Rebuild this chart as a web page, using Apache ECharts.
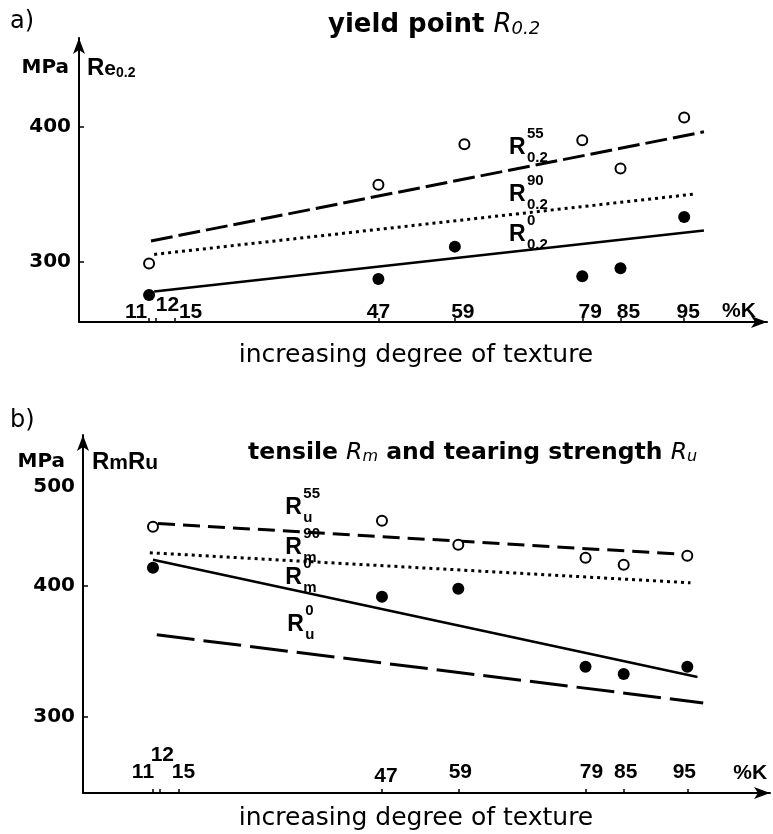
<!DOCTYPE html>
<html>
<head>
<meta charset="utf-8">
<script src="https://cdn.jsdelivr.net/npm/echarts@6/dist/echarts.min.js"></script>
<style>
  html, body { margin: 0; padding: 0; background: #fff; }
  #chart { width: 773px; height: 834px; }
</style>
</head>
<body>
<div id="chart"></div>
<script>
// Degree of texture (%K) of the sheet samples, shown as tick labels
const kTicks = [11, 12, 15, 47, 59, 79, 85, 95];
const yTicksA = [300, 400];
const yTicksB = [300, 400, 500];

// a) yield point R0.2 in MPa
const kOpenA = [11, 47, 60.5, 79, 85, 95];
const r55A   = [298.5, 357, 387, 390, 369, 407];
const kFullA = [11, 47, 59, 79, 85, 95];
const r0A    = [275, 287, 311, 289, 295, 333];
const fitR55A = [[11.3, 315.2], [98.1, 396.3]];
const fitR90A = [[11.8, 305.2], [96.9, 350.2]];
const fitR0A  = [[11.8, 277.7], [98.1, 323.0]];

// b) tensile strength Rm and tearing strength Ru in MPa
const kB     = [11, 47, 59, 79, 85, 95];
const ru55B  = [445, 449.6, 431.3, 421.4, 416, 422.9];
const rm0B   = [413.7, 391.6, 397.7, 338.2, 332.8, 338.2];
const fitRu55B = [[11.8, 447.5], [95.5, 423.7]];
const fitRm90B = [[10.5, 425.2], [95.5, 402.3]];
const fitRm0B  = [[11.0, 419.8], [96.6, 330.5]];
const fitRu0B  = [[11.6, 362.6], [97.5, 310.7]];

const BLACK = '#000';
const NUM_FONT = '"Liberation Sans", Arial, sans-serif';
const DJ = '"DejaVu Sans", sans-serif';

// the tick values are lettered just above the axis; crowded ones are nudged [dx, raise]
const shiftA = { 11: [-13, 0], 12: [12, 7], 15: [16, 0], 59: [8, 0], 79: [8, 0], 85: [8, 0], 95: [4, 0] };
const shiftB = { 11: [-10, 0], 12: [3, 17], 15: [5, 0], 47: [4, -4], 59: [2, 0], 79: [6, 0], 85: [2, 0], 95: [-3, 0] };

function xAxisCfg(grid) {
  return {
    type: 'value', gridIndex: grid, min: 0, max: 108,
    axisLine: { show: true, symbol: ['none', 'arrow'], symbolSize: [9, 16],
                lineStyle: { color: BLACK, width: 2 } },
    axisTick: { show: true, inside: true, length: 4, customValues: kTicks,
                lineStyle: { color: BLACK, width: 1.5 } },
    axisLabel: { show: false },
    splitLine: { show: false }
  };
}

function yAxisCfg(grid, min, max, labels, ticks) {
  return {
    type: 'value', gridIndex: grid, min: min, max: max,
    axisLine: { show: true, symbol: ['none', 'arrow'], symbolSize: [9, 16],
                lineStyle: { color: BLACK, width: 2 } },
    axisTick: { show: true, inside: true, length: 5, customValues: ticks,
                lineStyle: { color: BLACK, width: 1.5 } },
    axisLabel: {
      show: true, margin: 8, customValues: labels, hideOverlap: false,
      formatter: v => (v === 500 ? '{top|' + v + '}' : '{n|' + v + '}'),
      rich: {
        n: { fontFamily: DJ, fontWeight: 'bold', fontSize: 20, color: BLACK },
        // the top value is lettered just below the arrow head, clear of the unit
        top: { fontFamily: DJ, fontWeight: 'bold', fontSize: 20, color: BLACK, padding: [64, 0, 0, 0] }
      }
    },
    splitLine: { show: false }
  };
}

function fitLine(data, xi, dash, width) {
  return {
    type: 'line', xAxisIndex: xi, yAxisIndex: xi, data: data,
    symbol: 'none', silent: true, z: 2,
    lineStyle: { color: BLACK, width: width, type: dash, cap: 'butt', opacity: 1 }
  };
}

function points(ks, vs, xi, open) {
  return {
    type: 'scatter', xAxisIndex: xi, yAxisIndex: xi, z: 5,
    data: ks.map((k, i) => [k, vs[i]]),
    symbol: 'circle', symbolSize: open ? 10 : 12,
    itemStyle: open ? { color: '#fff', borderColor: BLACK, borderWidth: 2, opacity: 1 }
                    : { color: BLACK, borderColor: BLACK, borderWidth: 0, opacity: 1 }
  };
}

const option = {
  animation: false,
  backgroundColor: '#fff',
  grid: [
    { left: 79, right: 6, top: 38, bottom: 512 },
    { left: 83, right: 3, top: 435, bottom: 41 }
  ],
  xAxis: [ xAxisCfg(0), xAxisCfg(1) ],
  yAxis: [
    yAxisCfg(0, 255, 466, yTicksA, yTicksA),
    yAxisCfg(1, 242, 515, yTicksB, [300, 400])
  ],
  series: [
    fitLine(fitR55A, 0, [22, 6], 3),
    fitLine(fitR90A, 0, [3, 4], 3),
    fitLine(fitR0A, 0, 'solid', 2.5),
    points(kOpenA, r55A, 0, true),
    points(kFullA, r0A, 0, false),

    fitLine(fitRu55B, 1, [17, 8], 3),
    fitLine(fitRm90B, 1, [3, 4], 3),
    fitLine(fitRm0B, 1, 'solid', 2.5),
    fitLine(fitRu0B, 1, [38, 9], 3),
    points(kB, ru55B, 1, true),
    points(kB, rm0B, 1, false)
  ]
};

const chart = echarts.init(document.getElementById('chart'), null, { renderer: 'canvas' });
chart.setOption(option);

function txt(x, y, text, font, align, vAlign, rich) {
  const style = { text: text, font: font, fill: BLACK,
                  align: align || 'left', verticalAlign: vAlign || 'middle',
                  textAlign: align || 'left', textVerticalAlign: vAlign || 'middle' };
  if (rich) style.rich = rich;
  return { type: 'text', x: x, y: y, silent: true, z: 100, style: style };
}

function px(grid, at) {
  return chart.convertToPixel({ xAxisIndex: grid, yAxisIndex: grid }, at);
}

// tick values written above the x axis of one panel
function tickLabels(grid, yMin, lift, shifts) {
  return kTicks.map(k => {
    const p = px(grid, [k, yMin]);
    const s = shifts[k] || [0, 0];
    return txt(p[0] + s[0], p[1] - lift - s[1], String(k), 'bold 21px ' + NUM_FONT, 'center');
  });
}

// "R" with a stacked superscript and subscript, anchored in data space
function rLabel(grid, at, sup, sub, size, small) {
  const p = px(grid, at);
  const f = 'bold ' + size + 'px ' + NUM_FONT;
  const fs = 'bold ' + small + 'px ' + NUM_FONT;
  const dx = Math.round(size * 0.74) + 1;
  return [
    txt(p[0], p[1], 'R', f),
    txt(p[0] + dx, p[1] - size * 0.62, sup, fs),
    txt(p[0] + dx, p[1] + size * 0.42, sub, fs)
  ];
}

function kLabel(grid, at, text) {
  const p = px(grid, at);
  return txt(p[0], p[1], text, 'bold 21px ' + NUM_FONT, 'center');
}

function titleRich(size) {
  return {
    b: { fontFamily: DJ, fontWeight: 'bold', fontSize: size, color: BLACK },
    i: { fontFamily: DJ, fontStyle: 'italic', fontSize: size, color: BLACK },
    s: { fontFamily: DJ, fontStyle: 'italic', fontSize: Math.round(size * 0.68), color: BLACK, verticalAlign: 'bottom' }
  };
}
const unitRich = {
  u: { fontFamily: DJ, fontWeight: 'bold', fontSize: 20, color: BLACK },
  r: { fontFamily: NUM_FONT, fontWeight: 'bold', fontSize: 24, color: BLACK },
  e: { fontFamily: NUM_FONT, fontWeight: 'bold', fontSize: 21, color: BLACK, verticalAlign: 'bottom' },
  s: { fontFamily: NUM_FONT, fontWeight: 'bold', fontSize: 14, color: BLACK, verticalAlign: 'bottom' }
};

const graphics = [].concat(
  [
    txt(10, 22, 'a)', '24px ' + DJ),
    txt(328, 25, '{b|yield point }{i|R}{s|0.2}', '26px ' + DJ, 'left', 'middle', titleRich(26)),
    txt(69, 68, '{u|MPa}', '20px ' + DJ, 'right', 'middle', unitRich),
    txt(87, 68, '{r|R}{e|e}{s|0.2}', '24px ' + NUM_FONT, 'left', 'middle', unitRich),
    txt(416, 355, 'increasing degree of texture', '25px ' + DJ, 'center'),
    kLabel(0, [103.6, 263], '%K'),

    txt(10, 421, 'b)', '24px ' + DJ),
    txt(248, 453, '{b|tensile }{i|R}{s|m}{b| and tearing strength }{i|R}{s|u}', '23.5px ' + DJ, 'left', 'middle', titleRich(23.5)),
    txt(65, 462, '{u|MPa}', '20px ' + DJ, 'right', 'middle', unitRich),
    txt(92, 462, '{r|R}{e|m}{r|R}{e|u}', '24px ' + NUM_FONT, 'left', 'middle', unitRich),
    txt(416, 818, 'increasing degree of texture', '25px ' + DJ, 'center'),
    kLabel(1, [104.9, 257.3], '%K')
  ],
  tickLabels(0, 255, 10, shiftA),
  tickLabels(1, 242, 21, shiftB),
  rLabel(0, [67.5, 384.4], '55', '0.2', 23, 15),
  rLabel(0, [67.5, 349.4], '90', '0.2', 23, 15),
  rLabel(0, [67.5, 319.7], '0', '0.2', 23, 15),
  rLabel(1, [31.8, 459.5], '55', 'u', 23, 15),
  rLabel(1, [31.8, 429.0], '90', 'm', 23, 15),
  rLabel(1, [31.8, 406.1], '0', 'm', 23, 15),
  rLabel(1, [32.1, 370.2], '0', 'u', 23, 15)
);

chart.setOption({ graphic: { elements: graphics } });
</script>
</body>
</html>
